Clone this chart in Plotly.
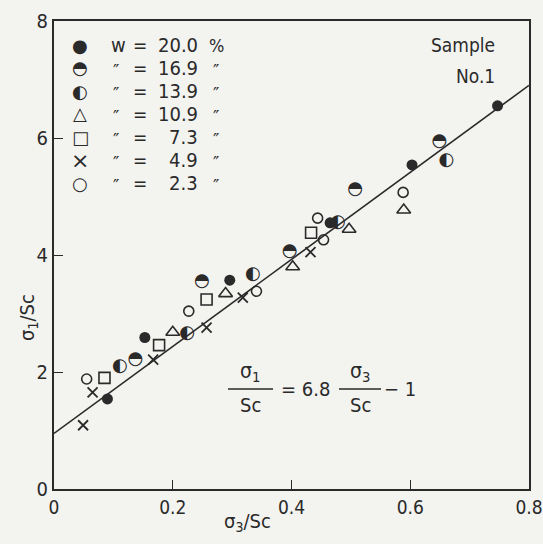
import plotly.graph_objects as go

# ---- data ----
w200_x = [0.090, 0.153, 0.296, 0.465, 0.603, 0.747]
w200_y = [1.54, 2.59, 3.57, 4.55, 5.54, 6.55]
w169_x = [0.137, 0.249, 0.397, 0.507, 0.649]
w169_y = [2.21, 3.54, 4.06, 5.12, 5.94]
w139_x = [0.111, 0.224, 0.335, 0.478, 0.661]
w139_y = [2.09, 2.65, 3.67, 4.56, 5.61]
w109_x = [0.200, 0.289, 0.402, 0.497, 0.589]
w109_y = [2.68, 3.34, 3.80, 4.44, 4.77]
w73_x = [0.085, 0.177, 0.257, 0.433]
w73_y = [1.90, 2.46, 3.24, 4.38]
w49_x = [0.049, 0.065, 0.167, 0.257, 0.318, 0.432]
w49_y = [1.09, 1.65, 2.21, 2.76, 3.27, 4.05]
w23_x = [0.055, 0.227, 0.341, 0.444, 0.454, 0.588]
w23_y = [1.88, 3.04, 3.38, 4.63, 4.26, 5.07]
fit_x = [0.0, 0.8]
fit_y = [0.95, 6.9]

legend_symbols = ["●", "◓", "◐", "△", "□", "×", "○"]
legend_values = ["20.0", "16.9", "13.9", "10.9", "7.3", "4.9", "2.3"]
x_ticks = [0, 0.2, 0.4, 0.6, 0.8]
x_tick_text = ["0", "0.2", "0.4", "0.6", "0.8"]
y_ticks = [0, 2, 4, 6, 8]

INK = "#2a2a2a"
FONT = "DejaVu Sans Condensed"
BG = "#f3f3f0"

fig = go.Figure()
fig.add_trace(go.Scatter(x=fit_x, y=fit_y, mode="lines",
                         line=dict(color=INK, width=1.6), showlegend=False))

def mk(x, y, symbol, size, lw=1.6):
    fig.add_trace(go.Scatter(x=x, y=y, mode="markers", showlegend=False,
                             marker=dict(symbol=symbol, size=size, color=INK,
                                         line=dict(color=INK, width=lw))))

def txt(x, y, ch, size=18):
    fig.add_trace(go.Scatter(x=x, y=y, mode="text", showlegend=False,
                             text=[ch] * len(x), textposition="middle center",
                             textfont=dict(family="DejaVu Sans", size=size, color=INK)))

mk(w200_x, w200_y, "circle", 11, 0)
txt(w169_x, w169_y, "◓")
txt(w139_x, w139_y, "◐")
mk(w109_x, w109_y, "triangle-up-open", 12)
mk(w73_x, w73_y, "square-open", 11)
mk(w49_x, w49_y, "x-thin-open", 10, 1.8)
mk(w23_x, w23_y, "circle-open", 10)

ann = []
row_y = [45, 68, 91, 114, 137, 160, 183]
H = 544.0
W = 543.0
L, R, T, B = 54, 14, 21, 55
pw, ph = W - L - R, H - T - B

def px(xp):
    return (xp - L) / pw

def py(yp):
    return (H - B - yp) / ph

def note(xp, yp, text, size, xanchor="center", family=FONT, **kw):
    ann.append(dict(x=px(xp), y=py(yp), xref="paper", yref="paper", text=text, showarrow=False,
                    xanchor=xanchor, yanchor="middle",
                    font=dict(family=family, size=size, color=INK), **kw))

for i, (sym, val) in enumerate(zip(legend_symbols, legend_values)):
    yy = row_y[i]
    note(80, yy, sym, 22 if sym == "×" else 18, family="DejaVu Sans")
    if i == 0:
        note(118, yy, "w", 20)
    else:
        note(116, yy + 3, "″", 17, family="DejaVu Sans")
    note(140, yy, "=", 19)
    note(200, yy, val, 20, xanchor="right")
    if i == 0:
        note(216, yy, "%", 18)
    else:
        note(216, yy + 3, "″", 17, family="DejaVu Sans")

note(497, 45, "Sample", 19, xanchor="right")
note(497, 76, "No.1", 19, xanchor="right")

note(250, 372, "σ<sub>1</sub>", 21)
note(250, 405, "Sc", 20)
note(305, 389, "= 6.8", 20)
note(360, 372, "σ<sub>3</sub>", 21)
note(360, 405, "Sc", 20)
note(400, 389, "− 1", 20)

note(247, 522, "σ<sub>3</sub>/Sc", 20)
note(28, 318, "σ<sub>1</sub>/Sc", 20, textangle=-90)

shapes = [
    dict(type="line", xref="paper", yref="paper", x0=px(228), x1=px(273), y0=py(389), y1=py(389),
         line=dict(color=INK, width=1.3)),
    dict(type="line", xref="paper", yref="paper", x0=px(339), x1=px(381), y0=py(389), y1=py(389),
         line=dict(color=INK, width=1.3)),
]

fig.update_layout(
    width=543, height=544,
    margin=dict(l=L, r=R, t=T, b=B, autoexpand=False),
    paper_bgcolor=BG, plot_bgcolor=BG,
    showlegend=False,
    annotations=ann, shapes=shapes,
    font=dict(family=FONT, size=18, color=INK),
)
fig.update_xaxes(range=[0, 0.8], tickvals=x_ticks, ticktext=x_tick_text, showgrid=False, zeroline=False,
                 showline=True, mirror=True, linecolor=INK, linewidth=2.2,
                 ticks="inside", ticklen=9, tickwidth=1.4, tickcolor=INK,
                 ticklabeloverflow="allow", automargin=False,
                 tickfont=dict(family=FONT, size=19, color=INK))
fig.update_yaxes(range=[0, 8], tickvals=y_ticks, showgrid=False, zeroline=False,
                 showline=True, mirror=True, linecolor=INK, linewidth=2.2,
                 ticks="inside", ticklen=9, tickwidth=1.4, tickcolor=INK,
                 automargin=False,
                 tickfont=dict(family=FONT, size=20, color=INK))

fig.write_html("out.html")
